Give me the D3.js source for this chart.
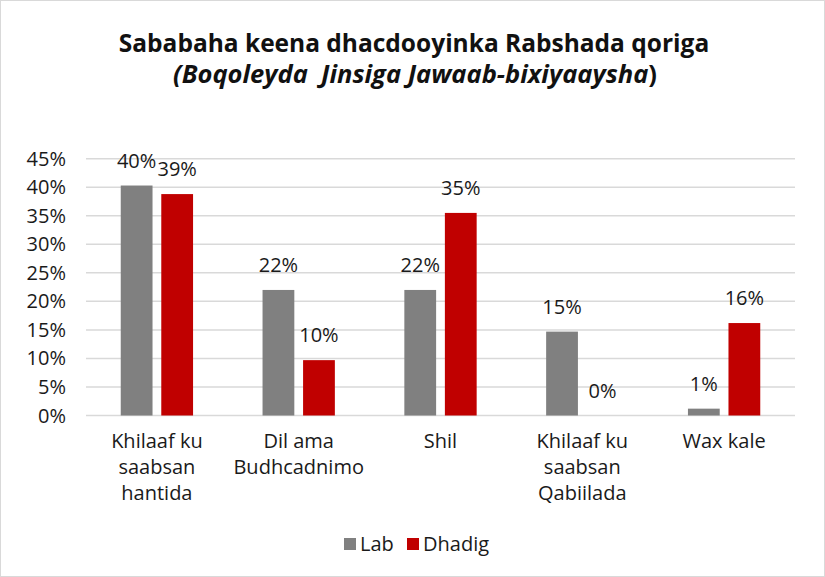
<!DOCTYPE html>
<html lang="so">
<head>
<meta charset="UTF-8">
<title>Sababaha keena dhacdooyinka Rabshada qoriga</title>
<script src="https://d3js.org/d3.v7.min.js"></script>
<style>
  body { margin: 0; padding: 0; background: #ffffff; }
  svg { display: block; font-family: "Open Sans", Lato, sans-serif; }
  .grid line { stroke: #d9d9d9; stroke-width: 1.5; }
  .tick-label, .val-label, .legend-text, .cat-label { fill: #1a1a1a; font-size: 20px; }
  .title { font-size: 24.5px; font-weight: bold; fill: #111; text-anchor: middle; }
  .subtitle { font-size: 25.5px; }
</style>
</head>
<body>
<svg width="825" height="577"></svg>
<script>
const categories = [
  ["Khilaaf ku", "saabsan", "hantida"],
  ["Dil ama", "Budhcadnimo"],
  ["Shil"],
  ["Khilaaf ku", "saabsan", "Qabiilada"],
  ["Wax kale"]
];
const seriesNames = ["Lab", "Dhadig"];
const labValues = [40.3, 22.0, 22.0, 14.7, 1.2];
const dhadigValues = [38.8, 9.7, 35.5, 0, 16.2];
const labText = ["40%", "22%", "22%", "15%", "1%"];
const dhadigText = ["39%", "10%", "35%", "0%", "16%"];
const yTicks = [0, 5, 10, 15, 20, 25, 30, 35, 40, 45];
const colors = { "Lab": "#808080", "Dhadig": "#c00000" };

const svg = d3.select("svg");
const width = +svg.attr("width");
const height = +svg.attr("height");

// outer frame
svg.append("rect")
  .attr("x", 0.5).attr("y", 0.5)
  .attr("width", width - 1).attr("height", height - 1)
  .attr("fill", "#fff")
  .attr("stroke", "#d9d9d9");

const plot = { left: 86, right: 795, top: 158.7, bottom: 415.5 };

const y = d3.scaleLinear().domain([0, 45]).range([plot.bottom, plot.top]);
const x0 = d3.scaleBand().domain(d3.range(categories.length)).range([plot.left, plot.right]).padding(0);
const bw = x0.bandwidth();
const x1 = d3.scaleBand().domain(seriesNames).range([bw * 0.245, bw * 0.755]).paddingInner(0.216).paddingOuter(0);

// title
svg.append("text").attr("class", "title")
  .attr("x", 414).attr("y", 52)
  .text("Sababaha keena dhacdooyinka Rabshada qoriga");
const sub = svg.append("text").attr("class", "title subtitle")
  .attr("x", 415).attr("y", 83)
  .attr("xml:space", "preserve");
sub.append("tspan").style("font-style", "italic").text("(Boqoleyda  Jinsiga Jawaab-bixiyaaysha");
sub.append("tspan").text(")");

// grid
svg.append("g").attr("class", "grid")
  .selectAll("line").data(yTicks).enter().append("line")
  .attr("x1", plot.left).attr("x2", plot.right)
  .attr("y1", d => y(d)).attr("y2", d => y(d));

// y tick labels
svg.append("g").selectAll("text").data(yTicks).enter().append("text")
  .attr("class", "tick-label")
  .attr("x", 66).attr("y", d => y(d) + 7)
  .attr("text-anchor", "end")
  .text(d => d + "%");

const rows = categories.map((c, i) => ({
  i: i,
  values: [
    { s: "Lab", v: labValues[i], t: labText[i] },
    { s: "Dhadig", v: dhadigValues[i], t: dhadigText[i] }
  ]
}));

const groups = svg.append("g").selectAll("g").data(rows).enter().append("g")
  .attr("transform", d => "translate(" + x0(d.i) + ",0)");

groups.selectAll("rect").data(d => d.values).enter().append("rect")
  .attr("x", d => x1(d.s))
  .attr("y", d => y(d.v))
  .attr("width", x1.bandwidth())
  .attr("height", d => y(0) - y(d.v))
  .attr("fill", d => colors[d.s]);

groups.selectAll("text").data(d => d.values).enter().append("text")
  .attr("class", "val-label")
  .attr("x", d => x1(d.s) + x1.bandwidth() / 2)
  .attr("y", d => y(d.v) - 18)
  .attr("text-anchor", "middle")
  .text(d => d.t);

// category labels
const catG = svg.append("g").selectAll("text").data(categories).enter().append("text")
  .attr("class", "cat-label")
  .attr("text-anchor", "middle")
  .attr("x", (d, i) => x0(i) + bw / 2)
  .attr("y", 448);
catG.selectAll("tspan").data(d => d).enter().append("tspan")
  .attr("x", function() { return d3.select(this.parentNode).attr("x"); })
  .attr("dy", (d, i) => i === 0 ? 0 : 26)
  .text(d => d);

// legend
const legend = svg.append("g");
const legendItems = [
  { s: "Lab", x: 344 },
  { s: "Dhadig", x: 407 }
];
legendItems.forEach(function(d) {
  legend.append("rect")
    .attr("x", d.x).attr("y", 538)
    .attr("width", 12).attr("height", 12)
    .attr("fill", colors[d.s]);
  legend.append("text")
    .attr("class", "legend-text")
    .attr("x", d.x + 16).attr("y", 551)
    .text(d.s);
});
</script>
</body>
</html>
